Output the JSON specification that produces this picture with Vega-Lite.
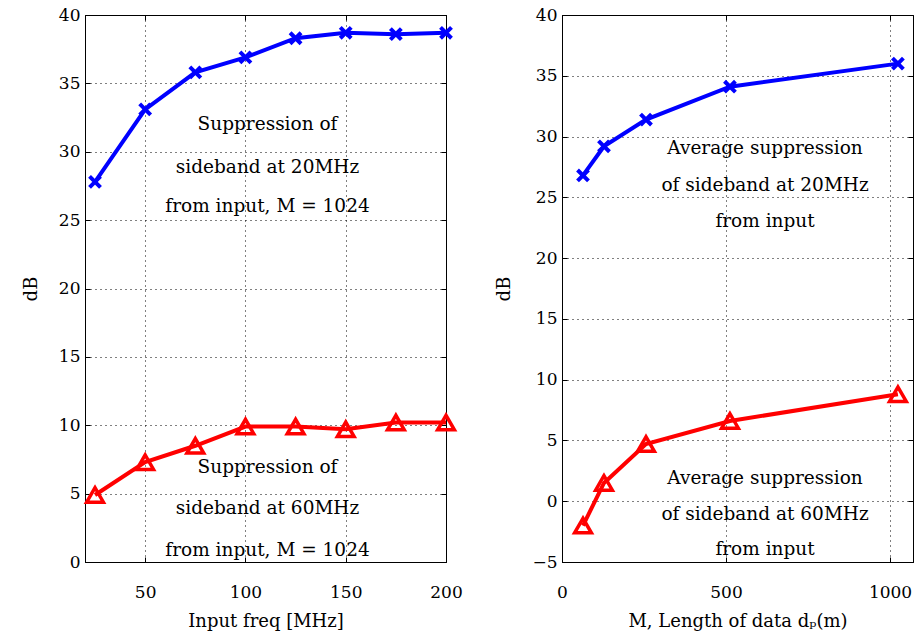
{
  "$schema": "https://vega.github.io/schema/vega-lite/v6.json",
  "background": "white",
  "padding": {"left": 21, "top": 5, "right": 0, "bottom": 2},
  "spacing": 116,
  "bounds": "flush",
  "datasets": {
    "left": [
      {"f": 25, "s": "20MHz", "dB": 27.8}, {"f": 50, "s": "20MHz", "dB": 33.1}, {"f": 75, "s": "20MHz", "dB": 35.8}, {"f": 100, "s": "20MHz", "dB": 36.9},
      {"f": 125, "s": "20MHz", "dB": 38.3}, {"f": 150, "s": "20MHz", "dB": 38.7}, {"f": 175, "s": "20MHz", "dB": 38.6}, {"f": 200, "s": "20MHz", "dB": 38.7},
      {"f": 25, "s": "60MHz", "dB": 4.9}, {"f": 50, "s": "60MHz", "dB": 7.3}, {"f": 75, "s": "60MHz", "dB": 8.5}, {"f": 100, "s": "60MHz", "dB": 9.9},
      {"f": 125, "s": "60MHz", "dB": 9.9}, {"f": 150, "s": "60MHz", "dB": 9.7}, {"f": 175, "s": "60MHz", "dB": 10.2}, {"f": 200, "s": "60MHz", "dB": 10.2}
    ],
    "right": [
      {"M": 64, "s": "20MHz", "dB": 26.8}, {"M": 128, "s": "20MHz", "dB": 29.2}, {"M": 256, "s": "20MHz", "dB": 31.4}, {"M": 512, "s": "20MHz", "dB": 34.1}, {"M": 1024, "s": "20MHz", "dB": 36.0},
      {"M": 64, "s": "60MHz", "dB": -2.0}, {"M": 128, "s": "60MHz", "dB": 1.5}, {"M": 256, "s": "60MHz", "dB": 4.7}, {"M": 512, "s": "60MHz", "dB": 6.6}, {"M": 1024, "s": "60MHz", "dB": 8.8}
    ],
    "leftText": [
      {"f": 111, "dB": 32.0, "t": "Suppression of"},
      {"f": 111, "dB": 28.9, "t": "sideband at 20MHz"},
      {"f": 111, "dB": 26.0, "t": "from input, M = 1024"},
      {"f": 111, "dB": 6.95, "t": "Suppression of"},
      {"f": 111, "dB": 3.95, "t": "sideband at 60MHz"},
      {"f": 111, "dB": 0.88, "t": "from input, M = 1024"}
    ],
    "rightText": [
      {"M": 619, "dB": 29.05, "t": "Average suppression"},
      {"M": 619, "dB": 26.0, "t": "of sideband at 20MHz"},
      {"M": 619, "dB": 23.04, "t": "from input"},
      {"M": 619, "dB": 1.9, "t": "Average suppression"},
      {"M": 619, "dB": -1.05, "t": "of sideband at 60MHz"},
      {"M": 619, "dB": -3.93, "t": "from input"}
    ]
  },
  "hconcat": [
    {
      "width": 361,
      "height": 547,
      "layer": [
        {
          "data": {"name": "left"},
          "mark": {"type": "line", "strokeWidth": 4},
          "encoding": {
            "x": {"field": "f", "type": "quantitative", "scale": {"domain": [20, 200], "nice": false, "zero": false},
                  "axis": {"values": [50, 100, 150, 200], "title": "Input freq [MHz]"}},
            "y": {"field": "dB", "type": "quantitative", "scale": {"domain": [0, 40], "nice": false},
                  "axis": {"values": [0, 5, 10, 15, 20, 25, 30, 35, 40], "title": "dB"}},
            "color": {"field": "s", "type": "nominal", "scale": {"domain": ["20MHz", "60MHz"], "range": ["#0000ff", "#ff0000"]}, "legend": null}
          }
        },
        {
          "data": {"name": "left"},
          "transform": [{"filter": "datum.s === '20MHz'"}],
          "mark": {"type": "point", "shape": "M-1,-1L1,1M-1,1L1,-1", "filled": false, "stroke": "#0000ff", "strokeWidth": 4, "size": 120, "opacity": 1},
          "encoding": {
            "x": {"field": "f", "type": "quantitative", "axis": null},
            "y": {"field": "dB", "type": "quantitative", "axis": null}
          }
        },
        {
          "data": {"name": "left"},
          "transform": [{"filter": "datum.s === '60MHz'"}],
          "mark": {"type": "point", "shape": "triangle-up", "filled": false, "stroke": "#ff0000", "strokeWidth": 3.5, "size": 280, "opacity": 1},
          "encoding": {
            "x": {"field": "f", "type": "quantitative", "axis": null},
            "y": {"field": "dB", "type": "quantitative", "axis": null}
          }
        },
        {
          "data": {"name": "leftText"},
          "mark": {"type": "text", "fontSize": 18.5, "color": "black", "align": "center", "baseline": "middle"},
          "encoding": {
            "x": {"field": "f", "type": "quantitative", "axis": null},
            "y": {"field": "dB", "type": "quantitative", "axis": null},
            "text": {"field": "t"}
          }
        },
        {
          "data": {"name": "left"},
          "mark": {"type": "point", "opacity": 0},
          "encoding": {
            "x": {"field": "f", "type": "quantitative", "axis": {"orient": "top", "values": [50, 100, 150, 200], "labels": false, "grid": false, "domain": false, "title": null}},
            "y": {"field": "dB", "type": "quantitative", "axis": {"orient": "right", "values": [0, 5, 10, 15, 20, 25, 30, 35, 40], "labels": false, "grid": false, "domain": false, "title": null}}
          }
        }
      ],
      "resolve": {"axis": {"x": "independent", "y": "independent"}}
    },
    {
      "width": 351,
      "height": 547,
      "layer": [
        {
          "data": {"name": "right"},
          "mark": {"type": "line", "strokeWidth": 4},
          "encoding": {
            "x": {"field": "M", "type": "quantitative", "scale": {"domain": [0, 1070], "nice": false},
                  "axis": {"values": [0, 500, 1000], "format": "d", "title": "M, Length of data dₚ(m)"}},
            "y": {"field": "dB", "type": "quantitative", "scale": {"domain": [-5, 40], "nice": false},
                  "axis": {"values": [-5, 0, 5, 10, 15, 20, 25, 30, 35, 40], "title": "dB", "labelExpr": "datum.value < 0 ? '−' + abs(datum.value) : datum.label"}},
            "color": {"field": "s", "type": "nominal", "scale": {"domain": ["20MHz", "60MHz"], "range": ["#0000ff", "#ff0000"]}, "legend": null}
          }
        },
        {
          "data": {"name": "right"},
          "transform": [{"filter": "datum.s === '20MHz'"}],
          "mark": {"type": "point", "shape": "M-1,-1L1,1M-1,1L1,-1", "filled": false, "stroke": "#0000ff", "strokeWidth": 4, "size": 120, "opacity": 1},
          "encoding": {
            "x": {"field": "M", "type": "quantitative", "axis": null},
            "y": {"field": "dB", "type": "quantitative", "axis": null}
          }
        },
        {
          "data": {"name": "right"},
          "transform": [{"filter": "datum.s === '60MHz'"}],
          "mark": {"type": "point", "shape": "triangle-up", "filled": false, "stroke": "#ff0000", "strokeWidth": 3.5, "size": 280, "opacity": 1},
          "encoding": {
            "x": {"field": "M", "type": "quantitative", "axis": null},
            "y": {"field": "dB", "type": "quantitative", "axis": null}
          }
        },
        {
          "data": {"name": "rightText"},
          "mark": {"type": "text", "fontSize": 18.5, "color": "black", "align": "center", "baseline": "middle"},
          "encoding": {
            "x": {"field": "M", "type": "quantitative", "axis": null},
            "y": {"field": "dB", "type": "quantitative", "axis": null},
            "text": {"field": "t"}
          }
        },
        {
          "data": {"name": "right"},
          "mark": {"type": "point", "opacity": 0},
          "encoding": {
            "x": {"field": "M", "type": "quantitative", "axis": {"orient": "top", "values": [0, 500, 1000], "labels": false, "grid": false, "domain": false, "title": null}},
            "y": {"field": "dB", "type": "quantitative", "axis": {"orient": "right", "values": [-5, 0, 5, 10, 15, 20, 25, 30, 35, 40], "labels": false, "grid": false, "domain": false, "title": null}}
          }
        }
      ],
      "resolve": {"axis": {"x": "independent", "y": "independent"}}
    }
  ],
  "config": {
    "font": "DejaVu Serif",
    "text": {"font": "DejaVu Serif"},
    "view": {"stroke": "black", "strokeWidth": 1},
    "axis": {
      "domainColor": "black",
      "tickColor": "black",
      "tickSize": -5,
      "gridColor": "black",
      "gridDash": [1, 4],
      "gridOpacity": 1,
      "gridWidth": 1,
      "labelFont": "DejaVu Serif",
      "labelFontSize": 17,
      "labelColor": "black",
      "labelFlush": false,
      "labelOverlap": false,
      "titleFont": "DejaVu Serif",
      "titleFontSize": 18,
      "titleFontWeight": "normal",
      "titleColor": "black"
    },
    "axisX": {"labelPadding": 27, "titlePadding": 12},
    "axisY": {"labelPadding": 10, "titlePadding": 18}
  }
}
